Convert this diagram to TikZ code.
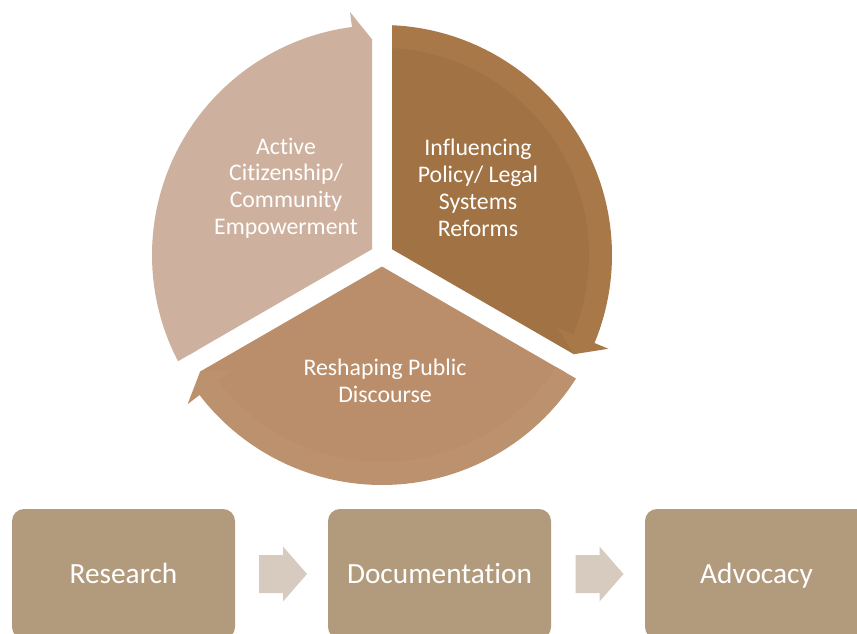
\documentclass[tikz,border=0pt]{standalone}
\usepackage{fontspec}
\setmainfont{Carlito}[RawFeature={-liga}]
\usetikzlibrary{calc}
\definecolor{segL}{HTML}{CDB19E}
\definecolor{segRband}{HTML}{A87848}
\definecolor{segRbody}{HTML}{A07244}
\definecolor{segBband}{HTML}{BC916E}
\definecolor{segBbody}{HTML}{BA8E6B}
\definecolor{boxc}{HTML}{B19B7C}
\definecolor{arrowc}{HTML}{D7CBBF}
\newcommand\cycleseg[3]{%
  \begin{scope}[shift={(382,-255)}, rotate=#1]
    \fill[#3] (11.55,0) -- ({60-asin(10/218)}:218)
      arc[start angle={60-asin(10/218)}, end angle=-52.5, radius=218pt]
      -- ({-60+asin(10/216)}:216) -- cycle;
    \fill[#2] ({60-asin(10/230)}:230)
      arc[start angle={60-asin(10/230)}, end angle=-52.5, radius=230pt]
      -- (-52.5:245) -- ({-60+asin(10/216)}:216) -- (-52.5:190) -- (-52.5:207)
      arc[start angle=-52.5, end angle={60-asin(10/207)}, radius=207pt] -- cycle;
  \end{scope}}
\begin{document}
\begin{tikzpicture}[x=1pt,y=1pt,
  segtext/.style={text=white, align=center, font=\fontsize{23.8}{26.8}\selectfont, inner sep=0pt},
  stage/.style={fill=boxc, rounded corners=12pt, minimum width=223pt, minimum height=130pt,
    inner sep=0pt, text=white, text height=22pt, text depth=4pt,
    font=\fontsize{29.3}{32}\selectfont},
  blockarrow/.style={fill=arrowc}]
\useasboundingbox (0,0) rectangle (857,-634);
\clip (0,0) rectangle (857,-634);
\fill[white] (0,0) rectangle (857,-634);

% cycle segments
\cycleseg{150}{segL}{segL}
\cycleseg{30}{segRband}{segRbody}
\cycleseg{-90}{segBband}{segBbody}

\node[segtext] (t1) at (286,-188) {Active\\Citizenship/\\Community\\Empowerment};
\node[segtext] (t2) at (478,-188) {Influencing\\Policy/ Legal\\Systems\\Reforms};
\node[segtext] (t3) at (385,-381) {Reshaping Public\\Discourse};

% process row
\node[stage] (research) at (123.5,-574) {Research};
\node[stage] (documentation) at (439.5,-574) {Documentation};
\node[stage] (advocacy) at (756.5,-574) {Advocacy};

\coordinate (m1) at ($(research.east)!0.5!(documentation.west)$);
\coordinate (m2) at ($(documentation.east)!0.5!(advocacy.west)$);
\fill[blockarrow, shift={(m1)}] (-22.5,19) -- (1.5,19) -- (1.5,27.5) -- (25.5,0)
  -- (1.5,-27.5) -- (1.5,-19) -- (-22.5,-19) -- cycle;
\fill[blockarrow, shift={(m2)}] (-22.5,19) -- (1.5,19) -- (1.5,27.5) -- (25.5,0)
  -- (1.5,-27.5) -- (1.5,-19) -- (-22.5,-19) -- cycle;
\end{tikzpicture}
\end{document}
